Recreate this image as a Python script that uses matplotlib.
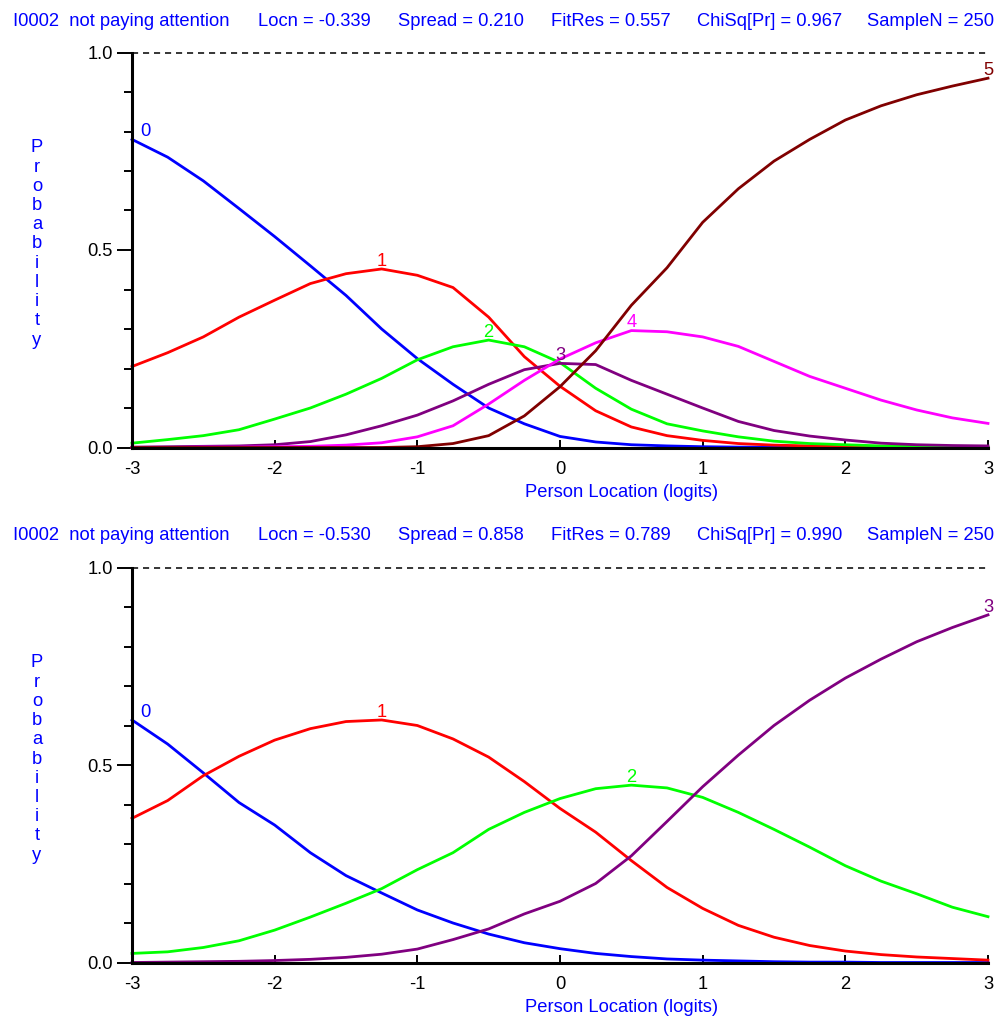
import matplotlib.pyplot as plt
from matplotlib.ticker import MultipleLocator

plt.rcParams['font.family'] = ['Liberation Sans', 'DejaVu Sans']
plt.rcParams['axes.unicode_minus'] = False

# Person location grid (logits)
logits = [-3.0, -2.75, -2.5, -2.25, -2.0, -1.75, -1.5, -1.25, -1.0, -0.75, -0.5, -0.25,
          0.0, 0.25, 0.5, 0.75, 1.0, 1.25, 1.5, 1.75, 2.0, 2.25, 2.5, 2.75, 3.0]

# Upper panel: six categories (0..5)
top_cat0 = [0.780, 0.735, 0.675, 0.605, 0.534, 0.460, 0.385, 0.300, 0.225, 0.160, 0.100, 0.060,
            0.028, 0.014, 0.007, 0.004, 0.002, 0.001, 0.001, 0.0, 0.0, 0.0, 0.0, 0.0, 0.0]
top_cat1 = [0.205, 0.240, 0.280, 0.330, 0.373, 0.415, 0.440, 0.452, 0.436, 0.405, 0.330, 0.230,
            0.155, 0.093, 0.052, 0.030, 0.018, 0.010, 0.006, 0.004, 0.002, 0.001, 0.0, 0.0, 0.0]
top_cat2 = [0.011, 0.020, 0.030, 0.045, 0.072, 0.100, 0.135, 0.175, 0.222, 0.255, 0.272, 0.255,
            0.215, 0.150, 0.097, 0.060, 0.042, 0.027, 0.016, 0.010, 0.007, 0.004, 0.003, 0.002, 0.001]
top_cat3 = [0.001, 0.002, 0.003, 0.004, 0.007, 0.015, 0.032, 0.055, 0.082, 0.118, 0.160, 0.197,
            0.213, 0.210, 0.170, 0.135, 0.100, 0.066, 0.043, 0.029, 0.019, 0.011, 0.007, 0.005, 0.004]
top_cat4 = [0.0, 0.0, 0.001, 0.001, 0.002, 0.003, 0.006, 0.012, 0.027, 0.055, 0.110, 0.170,
            0.224, 0.265, 0.296, 0.293, 0.280, 0.256, 0.218, 0.180, 0.150, 0.120, 0.095, 0.075, 0.061]
top_cat5 = [0.0, 0.0, 0.0, 0.0, 0.0, 0.0, 0.0, 0.0, 0.002, 0.010, 0.030, 0.080,
            0.154, 0.245, 0.360, 0.455, 0.570, 0.655, 0.725, 0.780, 0.829, 0.865, 0.893, 0.915, 0.935]

# Lower panel: four categories (0..3)
bot_cat0 = [0.614, 0.553, 0.480, 0.405, 0.348, 0.278, 0.220, 0.176, 0.133, 0.100, 0.072, 0.050,
            0.035, 0.023, 0.015, 0.009, 0.006, 0.004, 0.002, 0.001, 0.001, 0.0, 0.0, 0.0, 0.0]
bot_cat1 = [0.365, 0.410, 0.473, 0.522, 0.563, 0.592, 0.610, 0.614, 0.600, 0.566, 0.520, 0.458,
            0.390, 0.330, 0.258, 0.190, 0.137, 0.094, 0.064, 0.043, 0.029, 0.020, 0.014, 0.010, 0.006]
bot_cat2 = [0.023, 0.027, 0.038, 0.055, 0.082, 0.115, 0.150, 0.187, 0.235, 0.278, 0.337, 0.380,
            0.415, 0.440, 0.449, 0.442, 0.418, 0.380, 0.337, 0.292, 0.245, 0.206, 0.174, 0.140, 0.116]
bot_cat3 = [0.0, 0.001, 0.002, 0.003, 0.005, 0.008, 0.013, 0.021, 0.034, 0.058, 0.085, 0.123,
            0.155, 0.200, 0.270, 0.357, 0.445, 0.525, 0.600, 0.664, 0.720, 0.768, 0.812, 0.848, 0.880]

top_header = ['I0002  not paying attention', 'Locn = -0.339', 'Spread = 0.210',
              'FitRes = 0.557', 'ChiSq[Pr] = 0.967', 'SampleN = 250']
bot_header = ['I0002  not paying attention', 'Locn = -0.530', 'Spread = 0.858',
              'FitRes = 0.789', 'ChiSq[Pr] = 0.990', 'SampleN = 250']

BLUE = '#0000ff'
FS = 13.2
W, H = 1007, 1016


def draw_panel(ax, curves, colors, header, top_px):
    for k, (vals, col) in enumerate(zip(curves, colors)):
        ax.plot(logits, vals, color=col, lw=2.0, solid_joinstyle='round', clip_on=False)
        # category number sits on top of the curve's peak
        i = max(range(len(vals)), key=lambda j: vals[j])
        x = logits[i]
        ha = 'center'
        if i == 0:
            x, ha = x + 0.06, 'left'
        ax.text(x, vals[i] + 0.008, str(k), color=col, fontsize=FS, ha=ha, va='baseline')

    ax.plot([-3, 3], [1, 1], color='black', lw=1.1, ls=(0, (4, 3.2)), clip_on=False)
    ax.set_xlim(-3, 3)
    ax.set_ylim(0, 1)
    ax.set_xticks([-3, -2, -1, 0, 1, 2, 3])
    ax.set_yticks([0, 0.5, 1.0])
    ax.set_yticklabels(['0.0', '0.5', '1.0'])
    ax.yaxis.set_minor_locator(MultipleLocator(0.1))
    ax.tick_params(axis='x', direction='in', length=6, width=1.4, labelsize=FS, pad=10)
    ax.tick_params(axis='y', which='major', direction='out', length=11, width=1.4, labelsize=FS, pad=3)
    ax.tick_params(axis='y', which='minor', direction='out', length=6, width=1.4)
    for s in ['top', 'right']:
        ax.spines[s].set_visible(False)
    for s in ['left', 'bottom']:
        ax.spines[s].set_linewidth(2.2)

    # header line above the panel
    for txt, px in zip(header, [13, 258, 398, 551, 697, 867]):
        fig.text(px / W, 1 - top_px / H, txt, color=BLUE, fontsize=FS, ha='left', va='center')

    # axis titles
    y0, y1 = ax.get_position().y0, ax.get_position().y1
    fig.text(622 / W, y0 - 45 / H, 'Person Location (logits)', color=BLUE,
             fontsize=FS, ha='center', va='center')
    fig.text(37 / W, (y0 + y1) / 2 + 6 / H, '\n'.join('Probability'), color=BLUE,
             fontsize=FS, ha='center', va='center', linespacing=1.17)


fig = plt.figure(figsize=(W / 100, H / 100), dpi=100)
ax1 = fig.add_axes([132 / W, 1 - 447.5 / H, 856 / W, 395 / H])
ax2 = fig.add_axes([132 / W, 1 - 962.5 / H, 856 / W, 395 / H])

draw_panel(ax1, [top_cat0, top_cat1, top_cat2, top_cat3, top_cat4, top_cat5],
           [BLUE, '#ff0000', '#00ff00', '#800080', '#ff00ff', '#800000'], top_header, 21)
draw_panel(ax2, [bot_cat0, bot_cat1, bot_cat2, bot_cat3],
           [BLUE, '#ff0000', '#00ff00', '#800080'], bot_header, 535)

fig.savefig('out.png', dpi=100)
